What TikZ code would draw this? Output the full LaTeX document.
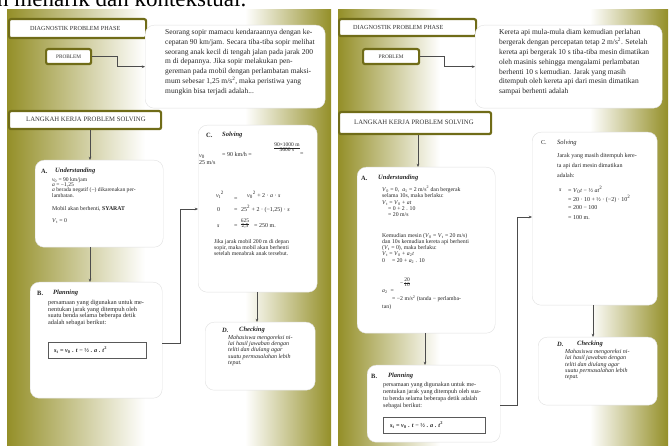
\documentclass[tikz,border=0pt]{standalone}
\usepackage{fontspec}
\setmainfont{Liberation Serif}
\usetikzlibrary{arrows.meta,calc}
\definecolor{olivebg}{RGB}{148,143,40}
\definecolor{olivedk}{RGB}{112,108,24}
\newcommand\hdfont{\fontsize{6.5}{7}\selectfont\bfseries\itshape}
\newcommand\vv[2]{\textit{#1}\textsubscript{#2}}
\newcommand\sq{\textsuperscript{2}}
\newcommand\fr[2]{\begin{tabular}{@{}c@{}}#1\\\hline #2\end{tabular}}
\renewcommand\arraystretch{0.85}
\setlength\arrayrulewidth{0.35pt}
\begin{document}
\begin{tikzpicture}[x=1pt,y=-1pt,
  titlebox/.style={draw=olivedk, line width=2.2pt, fill=white, rounded corners=2pt, inner sep=0pt, anchor=north west},
  softbox/.style={fill=white, draw=black!12, line width=0.4pt, rounded corners=9pt, inner sep=0pt, anchor=north west},
  formbox/.style={draw=black!65, line width=0.5pt, fill=white, inner sep=0pt, anchor=north west},
  txt/.style={inner sep=0pt, anchor=north west, align=left, text=black!85, font=\fontsize{5.5}{6}\selectfont},
  ttl/.style={inner sep=0pt, anchor=west, text=black!80, font=\fontsize{6.2}{6.5}\selectfont},
  hd/.style={inner sep=0pt, anchor=west, text=black!85, font=\hdfont},
  conn/.style={draw=black!70, line width=0.6pt},
  arr/.style={conn, -{Stealth[length=3.2pt,width=2.6pt]}}]
\useasboundingbox (0,0) rectangle (670,446);
\fill[white] (0,0) rectangle (670,446);
% top cut text
\node[inner sep=0pt, anchor=base west, font=\fontsize{23}{24}\selectfont] (toptxt) at (-3,7) {n menarik dan kontekstual.};
% page backgrounds
\fill[white] (7,10) rectangle (331,446);
\shade[left color=olivebg, right color=white] (7,10) rectangle (145,446);
\shade[left color=white, right color=olivebg] (245,10) rectangle (331,446);
\fill[white] (338,10) rectangle (668,446);
\shade[left color=olivebg, right color=white] (338,10) rectangle (440,446);
\shade[left color=white, right color=olivebg] (590,10) rectangle (668,446);

% ================= LEFT PAGE =================
\node[titlebox, minimum width=137pt, minimum height=19pt] (lDiag) at (8,18) {};
\node[ttl] (lDiagT) at (30,28) {DIAGNOSTIK PROBLEM PHASE};
\node[titlebox, minimum width=45pt, minimum height=15pt] (lProb) at (45,48) {};
\node[ttl, anchor=center, font=\fontsize{5.3}{6}\selectfont] (lProbT) at (lProb.center) {PROBLEM};
\node[softbox, minimum width=180pt, minimum height=83pt] (lText) at (145,25) {};
\node[txt, font=\fontsize{7.5}{9.8}\selectfont] (lTextT) at (165,29) {Seorang sopir mamacu kendaraannya dengan ke-\\cepatan 90 km/jam. Secara tiba-tiba sopir melihat\\seorang anak kecil di tengah jalan pada jarak 200\\m di depannya. Jika sopir melakukan pen-\\gereman pada mobil dengan perlambatan maksi-\\mum sebesar 1,25 m/s\sq, maka peristiwa yang\\mungkin bisa terjadi adalah...};
\draw[arr] (lProb.east) -- ++(25,0) |- (lText.west);

\node[titlebox, minimum width=152pt, minimum height=18pt] (lLang) at (8,110) {};
\node[ttl, font=\fontsize{6.7}{7}\selectfont] (lLangT) at (26,119) {LANGKAH KERJA PROBLEM SOLVING};

% A
\node[softbox, minimum width=128pt, minimum height=87pt] (lA) at (35,160) {};
\node[hd, font=\fontsize{6.5}{7}\selectfont\bfseries] (lAh) at (41,171) {A.};
\node[hd] (lAt) at (55,171) {Understanding};
\node[txt, font=\fontsize{5.6}{5}\selectfont] (lA1) at (52,177) {\vv{v}{0} = 90 km/jam\\\textit{a} = −1,25\\\textit{a} berada negatif (−) dikarenakan per-\\lambatan.};
\node[txt, font=\fontsize{5.8}{6}\selectfont] (lA2) at (52,206) {Mobil akan berhenti, \textbf{SYARAT}};
\node[txt, font=\fontsize{5.8}{6}\selectfont] (lA3) at (52,218) {\vv{V}{t} = 0};
\draw[arr] ($(lLang.south west)+(82,0)$) -- ($(lA.north west)+(55,0)$);

% B
\node[softbox, minimum width=132pt, minimum height=116pt] (lB) at (30,282) {};
\node[hd, font=\fontsize{6.5}{7}\selectfont\bfseries] (lBh) at (37,293) {B.};
\node[hd] (lBt) at (53,293) {Planning};
\node[txt, font=\fontsize{6.3}{6.6}\selectfont] (lB1) at (48,300) {persamaan yang digunakan untuk me-\\nentukan jarak yang ditempuh oleh\\suatu benda selama beberapa detik\\adalah sebagai berikut:};
\node[formbox, minimum width=98pt, minimum height=16pt] (lF) at (48,342) {};
\node[txt, anchor=west, font=\fontsize{6.2}{6.5}\selectfont\bfseries] (lFt) at (54,350) {\vv{s}{t} = \vv{v}{0} . \textit{t} − ½ . \textit{a} . \textit{t}\sq};
\draw[arr] ($(lA.south west)+(55,0)$) -- ($(lB.north west)+(60,0)$);

% C
\node[softbox, minimum width=119pt, minimum height=167pt] (lC) at (198,125) {};
\node[hd, font=\fontsize{6.5}{7}\selectfont\bfseries] (lCh) at (206,135) {C.};
\node[hd] (lCt) at (222,135) {Solving};
\node[txt, anchor=west, font=\fontsize{6}{6.5}\selectfont] (lC1) at (199,157) {\vv{v}{0}};
\node[txt, anchor=west, font=\fontsize{6}{6.5}\selectfont] (lC2) at (222,154) {= 90 km/h =};
\node[txt, anchor=center, font=\fontsize{5.5}{6}\selectfont] (lC3) at (287,148) {\fr{90×1000 m}{3600 s}};
\node[txt, anchor=west, font=\fontsize{6}{6.5}\selectfont] (lC4) at (300,154) {=};
\node[txt, anchor=west, font=\fontsize{6}{6.5}\selectfont] (lC5) at (199,163) {25 m/s};
\node[txt, anchor=west, font=\fontsize{6}{6.5}\selectfont] (lC6) at (216,195) {\vv{v}{t}\sq};
\node[txt, anchor=west, font=\fontsize{6}{6.5}\selectfont] (lC7) at (234,199) {=};
\node[txt, anchor=west, font=\fontsize{6}{6.5}\selectfont] (lC8) at (247,195) {\vv{v}{0}\sq{} + 2 · \textit{a} · \textit{s}};
\node[txt, anchor=west, font=\fontsize{6}{6.5}\selectfont] (lC9) at (217,210) {0};
\node[txt, anchor=west, font=\fontsize{6}{6.5}\selectfont] (lC10) at (234,210) {=};
\node[txt, anchor=west, font=\fontsize{6}{6.5}\selectfont] (lC11) at (241,209) {25\sq{} + 2 · (−1,25) · \textit{s}};
\node[txt, anchor=west, font=\fontsize{6}{6.5}\selectfont] (lC12) at (217,226) {\textit{s}};
\node[txt, anchor=west, font=\fontsize{6}{6.5}\selectfont] (lC13) at (234,226) {=};
\node[txt, anchor=center, font=\fontsize{5.5}{6}\selectfont] (lC14) at (245,224) {\fr{625}{2,5}};
\node[txt, anchor=west, font=\fontsize{6}{6.5}\selectfont] (lC15) at (254,226) {= 250 m.};
\node[txt, font=\fontsize{5.8}{6.2}\selectfont] (lC16) at (214,239) {Jika jarak mobil 200 m di depan\\sopir, maka mobil akan berhenti\\setelah menabrak anak tersebut.};
\draw[arr] (lB.east |- 0,343) -- (180,343) |- (lC.west |- 0,209);

% D
\node[softbox, minimum width=110pt, minimum height=68pt] (lD) at (205,322) {};
\node[hd, font=\fontsize{6.5}{7}\selectfont\bfseries\itshape] (lDh) at (222,330) {D.};
\node[hd] (lDt) at (239,330) {Checking};
\node[txt, font=\fontsize{6}{6.3}\selectfont\itshape] (lD1) at (228,335) {Mahasiswa mengoreksi ni-\\lai hasil jawaban dengan\\teliti dan diulang agar\\suatu permasalahan lebih\\tepat.};
\draw[arr] ($(lC.south west)+(59,0)$) -- ($(lD.north west)+(52,0)$);

% ================= RIGHT PAGE =================
\node[titlebox, minimum width=137pt, minimum height=17pt] (rDiag) at (338,18) {};
\node[ttl] (rDiagT) at (353,27) {DIAGNOSTIK PROBLEM PHASE};
\node[titlebox, minimum width=56pt, minimum height=15pt] (rProb) at (362,48) {};
\node[ttl, anchor=center, font=\fontsize{5.3}{6}\selectfont] (rProbT) at (rProb.center) {PROBLEM};
\node[softbox, minimum width=187pt, minimum height=83pt] (rText) at (475,25) {};
\node[txt, font=\fontsize{7.5}{9.9}\selectfont] (rTextT) at (499,29) {Kereta api mula-mula diam kemudian perlahan\\bergerak dengan percepatan tetap 2 m/s\sq. Setelah\\kereta api bergerak 10 s tiba-tiba mesin dimatikan\\oleh masinis sehingga mengalami perlambatan\\berhenti 10 s kemudian. Jarak yang masih\\ditempuh oleh kereta api dari mesin dimatikan\\sampai berhenti adalah};
\draw[arr] (rProb.east) -- ++(24,0) |- (rText.west);

\node[titlebox, minimum width=152pt, minimum height=22pt] (rLang) at (338,111) {};
\node[ttl, font=\fontsize{6.7}{7}\selectfont] (rLangT) at (354,122) {LANGKAH KERJA PROBLEM SOLVING};

% A
\node[softbox, minimum width=138pt, minimum height=166pt] (rA) at (357,167) {};
\node[hd, font=\fontsize{6.5}{7}\selectfont\bfseries] (rAh) at (361,178) {A.};
\node[hd] (rAt) at (378,178) {Understanding};
\node[txt, font=\fontsize{5.8}{5.8}\selectfont] (rA1) at (382,186) {\vv{V}{0} = 0, \ \vv{a}{1} = 2 m/s\sq{} dan bergerak\\selama 10s, maka berlaku:};
\node[txt, font=\fontsize{5.8}{6}\selectfont] (rA2) at (382,201) {\vv{V}{t} = \vv{V}{0} + \textit{at}\\\hspace*{6pt}= 0 + 2 . 10\\\hspace*{6pt}= 20 m/s};
\node[txt, font=\fontsize{5.8}{6.2}\selectfont] (rA3) at (382,233) {Kemudian mesin (\vv{V}{0} = \vv{V}{t} = 20 m/s)\\dan 10s kemudian kereta api berhenti\\(\vv{V}{t} = 0), maka berlaku:\\\vv{V}{t} = \vv{V}{0} + \vv{a}{2}\textit{t}\\0\hspace{7pt}= 20 + \vv{a}{2} . 10};
\node[txt, anchor=center, font=\fontsize{5.5}{6}\selectfont] (rA4) at (405,283) {−\,\fr{20}{10}};
\node[txt, anchor=west, font=\fontsize{5.8}{6}\selectfont] (rA5) at (382,292) {\vv{a}{2} \ =};
\node[txt, anchor=west, font=\fontsize{5.8}{6}\selectfont] (rA6) at (392,299) {= −2 m/s\sq{} (tanda − perlamba-};
\node[txt, anchor=west, font=\fontsize{5.8}{6}\selectfont] (rA7) at (382,307) {tan)};
\draw[arr] ($(rLang.south west)+(80,0)$) -- ($(rA.north west)+(61,0)$);

% B
\node[softbox, minimum width=133pt, minimum height=77pt] (rB) at (367,365) {};
\node[hd, font=\fontsize{6.5}{7}\selectfont\bfseries] (rBh) at (371,376) {B.};
\node[hd] (rBt) at (388,376) {Planning};
\node[txt, font=\fontsize{6.1}{7}\selectfont] (rB1) at (383,382) {persamaan yang digunakan untuk me-\\nentukan jarak yang ditempuh oleh sua-\\tu benda selama beberapa detik adalah\\sebagai berikut:};
\node[formbox, minimum width=102pt, minimum height=16pt] (rF) at (383,417) {};
\node[txt, anchor=west, font=\fontsize{6.2}{6.5}\selectfont\bfseries] (rFt) at (390,425) {\vv{s}{t} = \vv{v}{0} . \textit{t} − ½ . \textit{a} . \textit{t}\sq};
\draw[arr] ($(rA.south west)+(68,0)$) -- ($(rB.north west)+(58,0)$);

% C
\node[softbox, minimum width=125pt, minimum height=173pt] (rC) at (532,132) {};
\node[txt, anchor=west, font=\fontsize{6}{7}\selectfont] (rCh) at (541,143) {C.};
\node[hd, font=\fontsize{6.5}{7}\selectfont\itshape] (rCt) at (557,143) {Solving};
\node[txt, font=\fontsize{6}{10}\selectfont] (rC1) at (557,153) {Jarak yang masih ditempuh kere-\\ta api dari mesin dimatikan\\adalah:};
\node[txt, anchor=west, font=\fontsize{6}{6.5}\selectfont] (rC2) at (559,190) {\textit{s}};
\node[txt, anchor=west, font=\fontsize{6}{6.5}\selectfont] (rC3) at (568,190) {= \vv{V}{0}\textit{t} − ½ \textit{at}\sq};
\node[txt, anchor=west, font=\fontsize{6}{6.5}\selectfont] (rC4) at (568,199) {= 20 · 10 + ½ · (−2) · 10\sq};
\node[txt, anchor=west, font=\fontsize{6}{6.5}\selectfont] (rC5) at (568,208) {= 200 − 100};
\node[txt, anchor=west, font=\fontsize{6}{6.5}\selectfont] (rC6) at (568,218) {= 100 m.};
\draw[arr] (rB.east |- 0,405) -- (517,405) |- (rC.west |- 0,217);

% D
\node[softbox, minimum width=119pt, minimum height=68pt] (rD) at (538,337) {};
\node[hd, font=\fontsize{6.5}{7}\selectfont\bfseries\itshape] (rDh) at (557,344) {D.};
\node[hd] (rDt) at (577,344) {Checking};
\node[txt, font=\fontsize{6}{6.4}\selectfont\itshape] (rD1) at (565,349) {Mahasiswa mengoreksi ni-\\lai hasil jawaban dengan\\teliti dan diulang agar\\suatu permasalahan lebih\\tepat.};
\draw[arr] ($(rC.south west)+(61,0)$) -- ($(rD.north west)+(55,0)$);
\end{tikzpicture}
\end{document}
